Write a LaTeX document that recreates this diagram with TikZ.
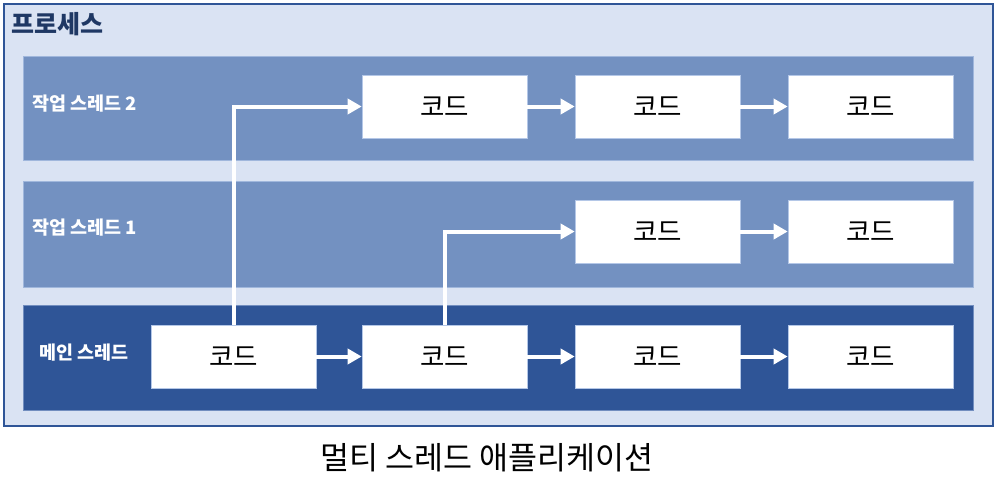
\documentclass[tikz,border=0pt]{standalone}
\usepackage{fontspec}
\usetikzlibrary{arrows.meta}
\newfontfamily\kr{Noto Sans CJK KR}
\definecolor{procfill}{HTML}{DAE3F3}
\definecolor{procline}{HTML}{2F5597}
\definecolor{titlecol}{HTML}{1F3864}
\definecolor{lightband}{HTML}{7391C1}
\definecolor{darkband}{HTML}{2F5597}
\definecolor{boxline}{HTML}{B4C7E7}
\tikzset{
  codebox/.style={draw=boxline, line width=0.6pt, fill=white, minimum width=165pt, minimum height=63pt, inner sep=0pt, font=\kr\fontsize{26.5}{30}\selectfont},
  bandlabel/.style={anchor=west, text=white, inner sep=0pt, font=\kr\bfseries\fontsize{18.5}{21}\selectfont},
  flow/.style={draw=white, line width=4pt, -{Triangle[length=14pt,width=15pt]}}
}
\begin{document}
\begin{tikzpicture}[x=1pt,y=-1pt]
\useasboundingbox (0,0) rectangle (999,480);
\fill[white] (0,0) rectangle (999,480);
% process box
\draw[procline, fill=procfill, line width=2.5pt] (4,4) rectangle (993,426);
\node[anchor=west, inner sep=0pt, text=titlecol, font=\kr\bfseries\fontsize{25}{29}\selectfont] (title) at (11,24) {프로세스};
% bands
\draw[fill=lightband, draw=boxline!70!lightband, line width=0.6pt] (23,56) rectangle (973,160);
\draw[fill=lightband, draw=boxline!70!lightband, line width=0.6pt] (23,181) rectangle (973,287);
\draw[fill=darkband, draw=boxline!50!darkband, line width=0.6pt] (23,305) rectangle (973,410);
\node[bandlabel] (l2) at (32,104) {작업 스레드 2};
\node[bandlabel] (l1) at (32,228) {작업 스레드 1};
\node[bandlabel] (l0) at (39,353) {메인 스레드};
% code boxes
\node[codebox] (a2) at (444.5,106.5) {코드};
\node[codebox] (b2) at (657.5,106.5) {코드};
\node[codebox] (c2) at (870.5,106.5) {코드};
\node[codebox] (b1) at (657.5,231.5) {코드};
\node[codebox] (c1) at (870.5,231.5) {코드};
\node[codebox] (m0) at (233.5,356.5) {코드};
\node[codebox] (a0) at (444.5,356.5) {코드};
\node[codebox] (b0) at (657.5,356.5) {코드};
\node[codebox] (c0) at (870.5,356.5) {코드};
% arrows
\draw[flow] (a2) -- (b2);
\draw[flow] (b2) -- (c2);
\draw[flow] (b1) -- (c1);
\draw[flow] (m0) -- (a0);
\draw[flow] (a0) -- (b0);
\draw[flow] (b0) -- (c0);
\draw[flow] (m0.north) |- (a2.west);
\draw[flow] (a0.north) |- (b1.west);
% caption
\node[inner sep=0pt, font=\kr\fontsize{31.5}{36}\selectfont] (cap) at (487,458) {멀티 스레드 애플리케이션};
\end{tikzpicture}
\end{document}
